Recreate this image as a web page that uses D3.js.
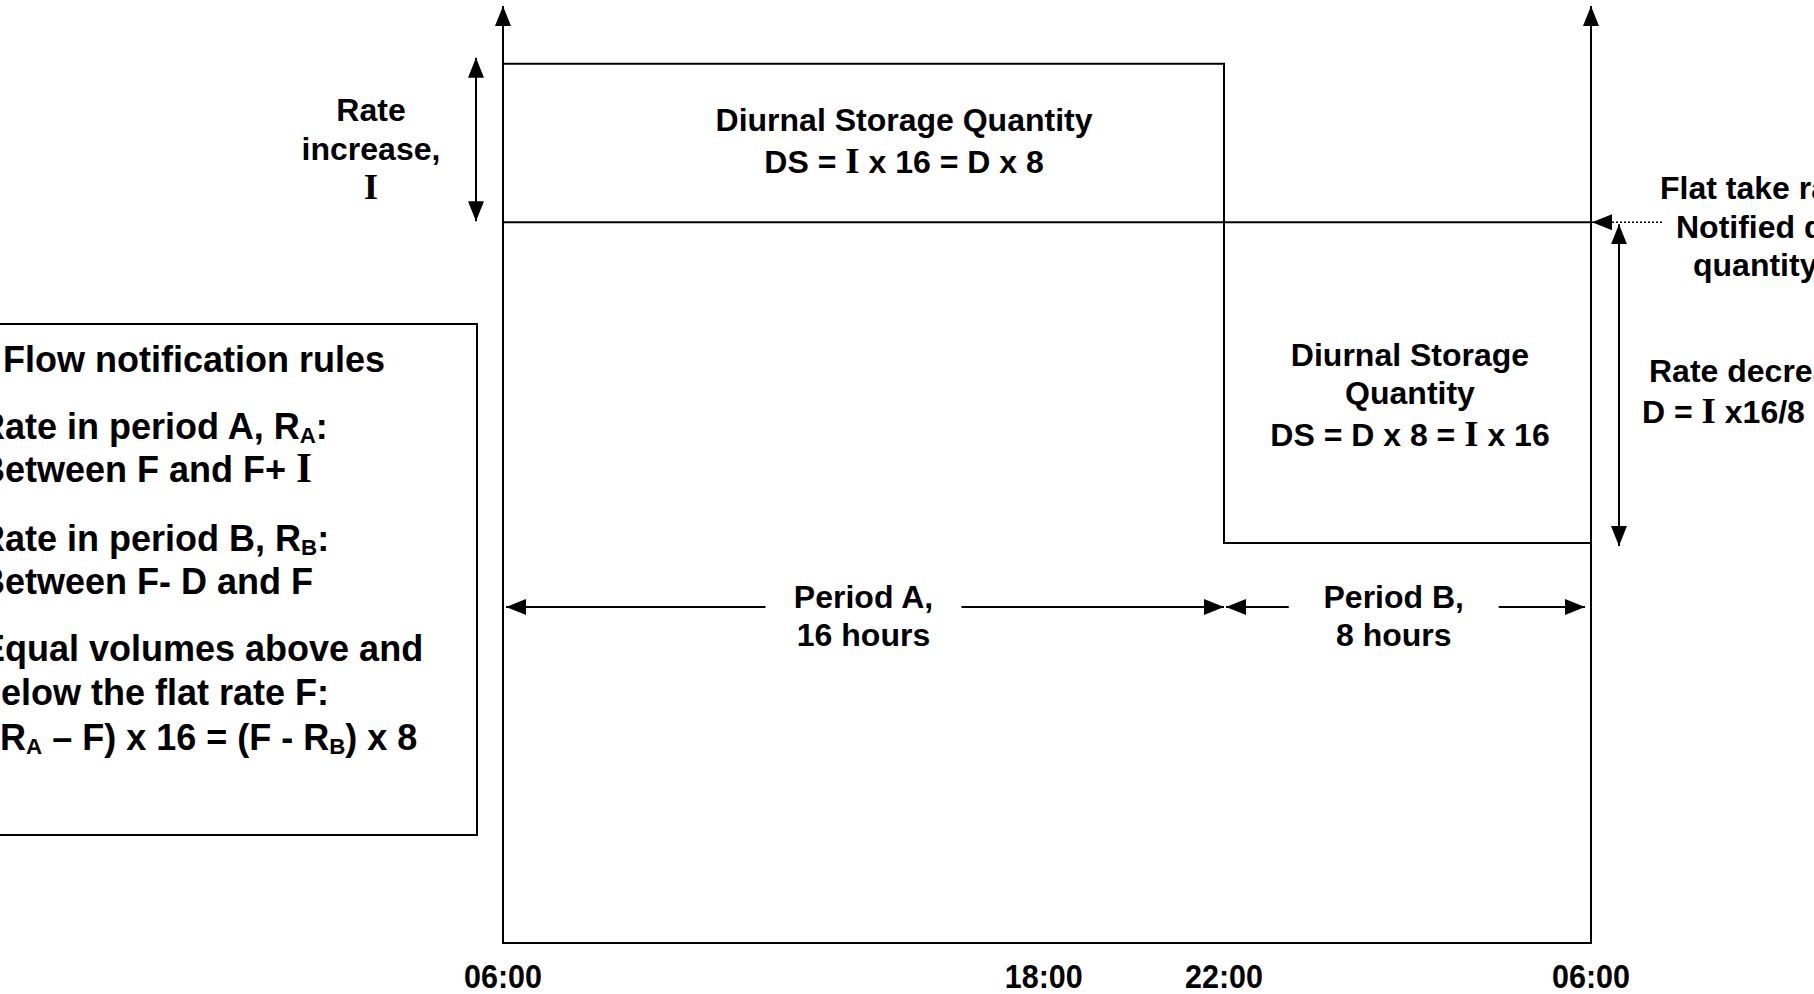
<!DOCTYPE html>
<html>
<head>
<meta charset="utf-8">
<script src="https://cdn.jsdelivr.net/npm/d3@7"></script>
<style>
  html, body { margin: 0; padding: 0; background: #fff; overflow: hidden; }
  svg text { font-family: "Liberation Sans", Arial, sans-serif; font-weight: bold; fill: #000; }
  .serif { font-family: "Liberation Serif", "Times New Roman", serif; font-weight: bold; }
</style>
</head>
<body>
<svg id="chart"></svg>
<script>
// =====================================================
// Data
// =====================================================
const hourDomain    = [6, 22, 30];
const rateDomain    = [0, 130];
const tickHours     = [6, 18, 22, 30];
const tickLabels    = ["06:00", "18:00", "22:00", "06:00"];
const profileHours  = [6, 22, 22, 30];
const profileRates  = [122, 122, 55.5, 55.5];
const flatRate      = 100;
const periodStart   = [6, 22];
const periodEnd     = [22, 30];
const periodLabelAt = [14, 25.7];
const periodNames   = ["Period A,", "Period B,"];
const periodLengths = ["16 hours", "8 hours"];

// text lines: arrays of segments, s = serif "I", sub = subscript
const dsTopLines = [
  [{t: "Diurnal Storage Quantity"}],
  [{t: "DS = "}, {t: "I", s: true}, {t: " x 16 = D x 8"}]
];
const dsLowLines = [
  [{t: "Diurnal Storage"}],
  [{t: "Quantity"}],
  [{t: "DS = D x 8 = "}, {t: "I", s: true}, {t: " x 16"}]
];
const incLines = [[{t: "Rate"}], [{t: "increase,"}], [{t: "I", s: true}]];
const flatLines = [[{t: "Flat take rate,"}], [{t: "Notified daily"}], [{t: "quantity"}]];
const decLines  = [[{t: "Rate decrease,"}], [{t: "D = "}, {t: "I", s: true}, {t: " x16/8"}]];
const ruleLines = [
  [{t: "Flow notification rules"}],
  [{t: "Rate in period A, R"}, {t: "A", sub: true}, {t: ":"}],
  [{t: "Between F and F+ "}, {t: "I", s: true}],
  [{t: "Rate in period B, R"}, {t: "B", sub: true}, {t: ":"}],
  [{t: "Between F- D and F"}],
  [{t: "Equal volumes above and"}],
  [{t: "below the flat rate F:"}],
  [{t: "(R"}, {t: "A", sub: true}, {t: " \u2013 F) x 16 = (F - R"}, {t: "B", sub: true}, {t: ") x 8"}]
];

// =====================================================
// Setup
// =====================================================
const W = 1814, H = 994;
const svg = d3.select("#chart").attr("width", W).attr("height", H);

const x = d3.scaleLinear().domain(hourDomain).range([503, 1224, 1591]);
const y = d3.scaleLinear().domain(rateDomain).range([943, 6]);

svg.append("defs").append("marker")
  .attr("id", "arr")
  .attr("viewBox", "0 0 20 16")
  .attr("refX", 20).attr("refY", 8)
  .attr("markerWidth", 20).attr("markerHeight", 16)
  .attr("markerUnits", "userSpaceOnUse")
  .attr("orient", "auto-start-reverse")
  .append("path").attr("d", "M0,0 L20,8 L0,16 Z").attr("fill", "#000");

function line(x1, y1, x2, y2, opts = {}) {
  const l = svg.append("line")
    .attr("x1", x1).attr("y1", y1).attr("x2", x2).attr("y2", y2)
    .attr("stroke", "#000").attr("stroke-width", opts.w || 2);
  if (opts.end)   l.attr("marker-end", "url(#arr)");
  if (opts.start) l.attr("marker-start", "url(#arr)");
  if (opts.dash)  l.attr("stroke-dasharray", opts.dash);
  return l;
}

function writeLine(segs, tx, ty, size, anchor) {
  const t = svg.append("text")
    .attr("x", tx).attr("y", ty)
    .attr("font-size", size)
    .attr("text-anchor", anchor || "middle");
  let shifted = false;
  segs.forEach(sg => {
    const sp = t.append("tspan").text(sg.t);
    if (sg.s) sp.attr("class", "serif").attr("font-size", size * 1.15);
    if (sg.sub) {
      sp.attr("font-size", size * 0.62).attr("dy", size * 0.1);
      shifted = true;
    } else if (shifted) {
      sp.attr("dy", -size * 0.1);
      shifted = false;
    }
  });
  return t;
}

function block(lines, tx, baselines, size, anchor) {
  lines.forEach((ln, i) => writeLine(ln, Array.isArray(tx) ? tx[i] : tx, baselines[i], size, anchor));
}

// =====================================================
// Axes
// =====================================================
line(x(6), y(0), x(6), y(rateDomain[1]), {end: true});
line(x(30), y(0), x(30), y(rateDomain[1]), {end: true});
line(x(6) - 1, y(0), x(30) + 1, y(0));

svg.selectAll(".tick-label")
  .data(tickHours)
  .enter().append("text")
  .attr("class", "tick-label")
  .attr("x", d => x(d))
  .attr("y", 988)
  .attr("text-anchor", "middle")
  .attr("font-size", 34)
  .attr("textLength", 78)
  .attr("lengthAdjust", "spacingAndGlyphs")
  .text((d, i) => tickLabels[i]);

// =====================================================
// Rate profile
// =====================================================
const profile = profileHours.map((h, i) => [h, profileRates[i]]);
svg.append("path")
  .datum(profile)
  .attr("fill", "none")
  .attr("stroke", "#000")
  .attr("stroke-width", 2)
  .attr("d", d3.line().x(d => x(d[0])).y(d => y(d[1])));

// flat take rate
line(x(6), y(flatRate), x(30), y(flatRate));

// =====================================================
// Annotations
// =====================================================
// rate increase arrow
line(476, y(flatRate) - 1, 476, y(profileRates[0]) - 6, {end: true, start: true});
block(incLines, 371, [121, 160, 199], 32);

// rate decrease arrow
line(1619, y(flatRate) + 2, 1619, y(profileRates[3]) + 3, {end: true, start: true});

// dotted pointer to flat rate
line(1662, y(flatRate), x(30) + 1, y(flatRate), {end: true, w: 1.5, dash: "2,2"});

block(dsTopLines, 904, [131, 173], 32);
block(dsLowLines, 1410, [366, 404, 446], 32);
block(flatLines, [1660, 1676, 1693], [199, 238, 276], 32, "start");
block(decLines, [1649, 1642], [382, 423], 32, "start");

// period arrows
const periodY = 607;
periodStart.forEach((s, i) => {
  const cx = x(periodLabelAt[i]);
  const gap = i === 0 ? 98 : 105;
  line(cx - gap, periodY, x(s) + (i === 0 ? 3 : 2), periodY, {end: true});
  line(cx + gap, periodY, x(periodEnd[i]) - (i === 0 ? 0 : 6), periodY, {end: true});
  writeLine([{t: periodNames[i]}], cx, 608, 32);
  writeLine([{t: periodLengths[i]}], cx, 646, 32);
});

// =====================================================
// Rules box
// =====================================================
svg.append("rect")
  .attr("x", -5).attr("y", 324)
  .attr("width", 482).attr("height", 511)
  .attr("fill", "none").attr("stroke", "#000").attr("stroke-width", 2);

block(ruleLines,
  [3, -21, -21, -21, -21, -19, -21, -12],
  [372, 439, 482, 551, 594, 661, 705, 750], 36, "start");
</script>
</body>
</html>
